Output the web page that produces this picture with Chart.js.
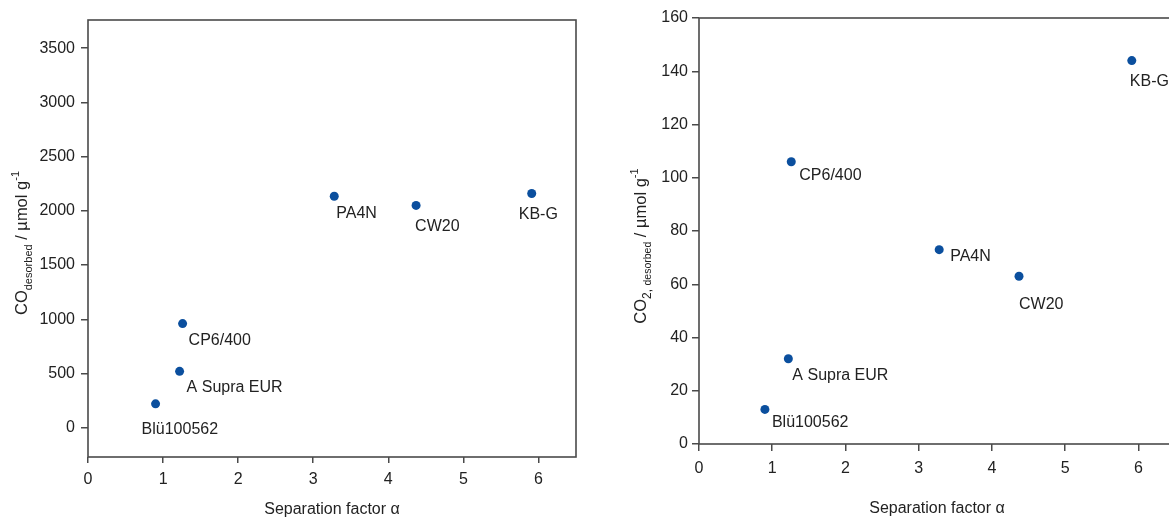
<!DOCTYPE html>
<html>
<head>
<meta charset="utf-8">
<script src="https://cdn.jsdelivr.net/npm/chart.js@4"></script>
<style>
    html, body { margin: 0; padding: 0; background: #fff; overflow: hidden; width: 1169px; height: 520px; }
    .painel { position: absolute; top: 0; height: 520px; }
    #painel-co { left: 0; width: 600px; }
    #painel-co2 { left: 620px; width: 580px; }
</style>
</head>
<body>
<div class="painel" id="painel-co"><canvas id="grafico-co"></canvas></div>
<div class="painel" id="painel-co2"><canvas id="grafico-co2"></canvas></div>
<script>
// Dados
const materiais = ['Blü100562', 'A Supra EUR', 'CP6/400', 'PA4N', 'CW20', 'KB-G'];
const fatorSeparacao = [0.9, 1.22, 1.26, 3.28, 4.37, 5.91];
const coDessorvido = [220, 520, 960, 2135, 2050, 2160];
const co2Dessorvido = [13, 32, 106, 73, 63, 144];

const ticksX = [0, 1, 2, 3, 4, 5, 6];
const ticksCO = [0, 500, 1000, 1500, 2000, 2500, 3000, 3500];
const ticksCO2 = [0, 20, 40, 60, 80, 100, 120, 140, 160];

const tituloX = 'Separation factor \u03b1';

// deslocamento dos rótulos em relação ao ponto (px)
const offsetsCO = [[-14, 26], [7, 16], [6, 17], [2, 17], [-1, 21], [-13, 21]];
const offsetsCO2 = [[7, 13], [4, 17], [8, 14], [11, 7], [0, 28], [-2, 21]];

const FONTE = '"Liberation Sans", Arial, Helvetica, sans-serif';
const COR_TEXTO = '#222';
const COR_EIXO = '#4a4a4a';
const COR_PONTO = '#0b4f9e';

// Plugin: moldura, rótulos dos pontos e títulos dos eixos
const pluginDesenho = {
    id: 'desenho',
    afterDraw(chart, args, opts) {
        const ctx = chart.ctx;
        const area = chart.chartArea;
        ctx.save();

        // moldura
        ctx.strokeStyle = COR_EIXO;
        ctx.lineWidth = 1.6;
        ctx.strokeRect(area.left, area.top, area.right - area.left, area.bottom - area.top);

        // rótulos dos pontos
        const meta = chart.getDatasetMeta(0);
        ctx.fillStyle = COR_TEXTO;
        ctx.font = '16px ' + FONTE;
        ctx.textAlign = 'left';
        ctx.textBaseline = 'middle';
        meta.data.forEach((ponto, i) => {
            const off = opts.offsets[i];
            ctx.fillText(materiais[i], ponto.x + off[0], ponto.y + off[1]);
        });

        // título do eixo x
        ctx.textAlign = 'center';
        ctx.font = '16px ' + FONTE;
        ctx.fillText(tituloX, (area.left + area.right) / 2, area.bottom + opts.tituloXOffset);

        // título do eixo y (com subscrito e sobrescrito)
        ctx.translate(opts.tituloYx, opts.tituloYy);
        ctx.rotate(-Math.PI / 2);
        ctx.textAlign = 'left';
        ctx.textBaseline = 'alphabetic';
        const partes = opts.partesY;
        let largura = 0;
        partes.forEach(p => {
            ctx.font = p.tam + 'px ' + FONTE;
            largura += ctx.measureText(p.t).width;
        });
        let x = -largura / 2;
        partes.forEach(p => {
            ctx.font = p.tam + 'px ' + FONTE;
            ctx.fillText(p.t, x, p.dy);
            x += ctx.measureText(p.t).width;
        });
        ctx.restore();
    }
};

function eixo(min, max, valoresTicks, largura, altura, tickLen, pad) {
    const cfg = {
        type: 'linear',
        min: min,
        max: max,
        afterBuildTicks: s => { s.ticks = valoresTicks.map(v => ({ value: v })); },
        ticks: {
            padding: pad,
            color: COR_TEXTO,
            font: { family: FONTE, size: 16 },
            callback: v => String(v)
        },
        grid: {
            drawOnChartArea: false,
            drawTicks: true,
            tickLength: tickLen,
            color: COR_EIXO,
            lineWidth: 1.5
        },
        border: { display: false }
    };
    if (largura) cfg.afterFit = s => { s.width = largura; };
    if (altura) cfg.afterFit = s => { s.height = altura; };
    return cfg;
}

function criarGrafico(id, valoresY, ticksY, cfg) {
    const pontos = fatorSeparacao.map((a, i) => ({ x: a, y: valoresY[i] }));
    const ctx = document.getElementById(id).getContext('2d');
    const eixoY = eixo(cfg.yMin, cfg.yMax, ticksY, cfg.larguraY, null, 7, cfg.padY);
    const eixoX = eixo(ticksX[0], cfg.xMax, ticksX, null, cfg.alturaX, cfg.tickX, cfg.padX);
    return new Chart(ctx, {
        type: 'scatter',
        data: {
            datasets: [{
                data: pontos,
                backgroundColor: COR_PONTO,
                borderColor: COR_PONTO,
                pointRadius: 4.5,
                pointHoverRadius: 4.5,
                borderWidth: 0
            }]
        },
        options: {
            responsive: true,
            maintainAspectRatio: false,
            animation: false,
            layout: { padding: { top: cfg.padTop, right: cfg.padRight, left: 0, bottom: 0 } },
            scales: { x: eixoX, y: eixoY },
            plugins: {
                legend: { display: false },
                tooltip: { enabled: false },
                desenho: {
                    offsets: cfg.offsets,
                    tituloXOffset: cfg.tituloXOffset,
                    tituloYx: cfg.tituloYx,
                    tituloYy: cfg.tituloYy,
                    partesY: cfg.partesY
                }
            }
        },
        plugins: [pluginDesenho]
    });
}

criarGrafico('grafico-co', coDessorvido, ticksCO, {
    yMin: -270, yMax: 3760, xMax: 6.5,
    larguraY: 88, alturaX: 63, padTop: 20, padRight: 24,
    padY: 6, tickX: 6, padX: 7,
    offsets: offsetsCO,
    tituloXOffset: 53,
    tituloYx: 27, tituloYy: 243,
    partesY: [
        { t: 'CO', tam: 16.5, dy: 0 },
        { t: 'desorbed', tam: 11, dy: 5 },
        { t: ' / \u00b5mol g', tam: 16.5, dy: 0 },
        { t: '-1', tam: 11, dy: -8 }
    ]
});

criarGrafico('grafico-co2', co2Dessorvido, ticksCO2, {
    yMin: ticksCO2[0], yMax: ticksCO2[ticksCO2.length - 1], xMax: 6.5,
    larguraY: 79, alturaX: 76, padTop: 18, padRight: 25,
    padY: 4, tickX: 7, padX: 8,
    offsets: offsetsCO2,
    tituloXOffset: 65,
    tituloYx: 26, tituloYy: 246,
    partesY: [
        { t: 'CO', tam: 16.5, dy: 0 },
        { t: '2, ', tam: 12, dy: 5 },
        { t: 'desorbed', tam: 10.5, dy: 5 },
        { t: ' / \u00b5mol g', tam: 16.5, dy: 0 },
        { t: '-1', tam: 11, dy: -8 }
    ]
});
</script>
</body>
</html>
